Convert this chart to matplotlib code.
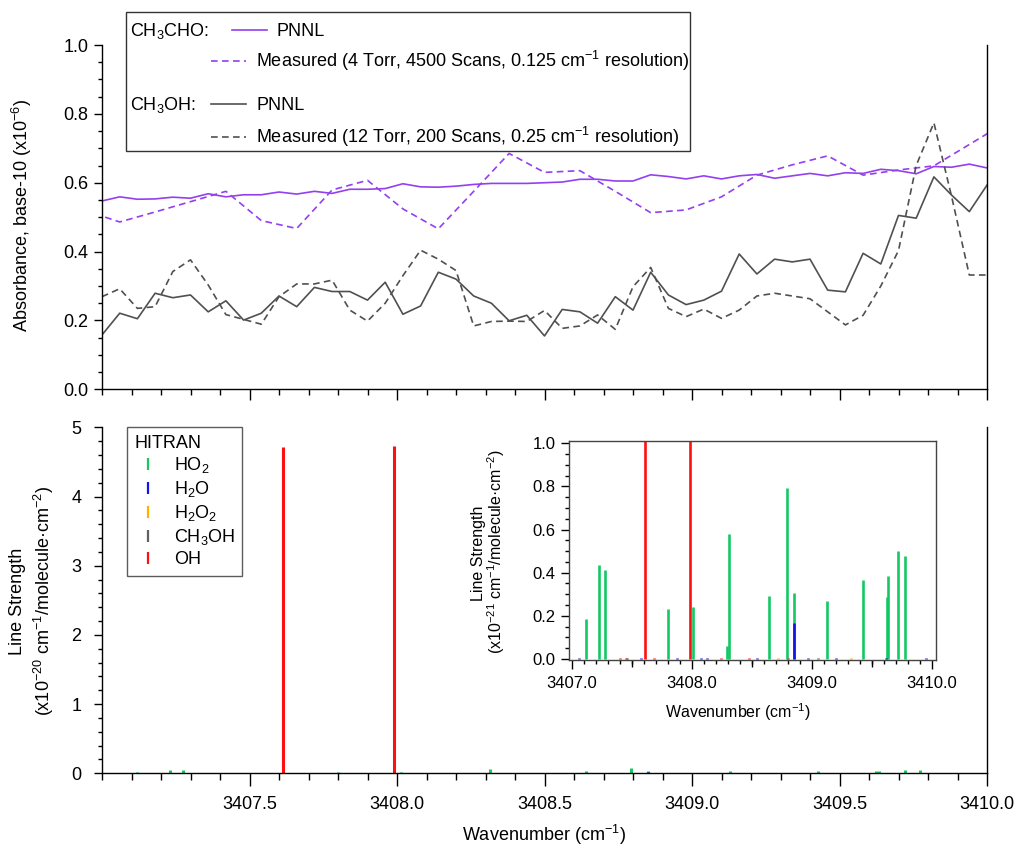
import numpy as np
import matplotlib
matplotlib.use("Agg")
import matplotlib.pyplot as plt
from matplotlib.lines import Line2D
from matplotlib.patches import Rectangle
from matplotlib.ticker import MultipleLocator, FixedLocator, FuncFormatter, NullFormatter

plt.rcParams["font.family"] = ["Liberation Sans", "DejaVu Sans"]
plt.rcParams["mathtext.fontset"] = "custom"
plt.rcParams["mathtext.rm"] = "Liberation Sans"
plt.rcParams["mathtext.it"] = "Liberation Sans:italic"
plt.rcParams["mathtext.bf"] = "Liberation Sans:bold"
plt.rcParams["mathtext.default"] = "regular"

# ---------------- absorbance spectra (x1e-6, base-10) ----------------
pnnl_start, pnnl_step, pnnl_n = 3407.0, 0.06, 51
pnnl_wn = np.round(pnnl_start + pnnl_step * np.arange(pnnl_n), 3)

ch3cho_pnnl = [0.547, 0.559, 0.552, 0.553, 0.558, 0.555, 0.568, 0.559, 0.565, 0.565,
               0.573, 0.567, 0.575, 0.569, 0.581, 0.581, 0.583, 0.597, 0.588, 0.587,
               0.590, 0.595, 0.598, 0.598, 0.598, 0.600, 0.602, 0.610, 0.610, 0.605,
               0.605, 0.623, 0.618, 0.611, 0.620, 0.611, 0.620, 0.624, 0.613, 0.620,
               0.627, 0.620, 0.629, 0.627, 0.639, 0.635, 0.626, 0.647, 0.645, 0.654,
               0.643]

ch3oh_pnnl = [0.158, 0.221, 0.205, 0.279, 0.266, 0.274, 0.225, 0.257, 0.201, 0.221,
              0.271, 0.240, 0.296, 0.284, 0.284, 0.259, 0.311, 0.218, 0.242, 0.340,
              0.320, 0.271, 0.250, 0.199, 0.215, 0.155, 0.232, 0.225, 0.192, 0.269,
              0.230, 0.340, 0.274, 0.246, 0.259, 0.285, 0.393, 0.335, 0.378, 0.370,
              0.378, 0.288, 0.283, 0.395, 0.364, 0.505, 0.497, 0.617, 0.564, 0.516,
              0.593]

ch3oh_meas = [0.269, 0.292, 0.235, 0.240, 0.342, 0.376, 0.303, 0.217, 0.203, 0.189,
              0.269, 0.306, 0.306, 0.317, 0.230, 0.198, 0.250, 0.330, 0.404, 0.378,
              0.345, 0.184, 0.197, 0.198, 0.197, 0.229, 0.177, 0.184, 0.216, 0.174,
              0.298, 0.354, 0.235, 0.211, 0.233, 0.206, 0.230, 0.271, 0.279, 0.271,
              0.263, 0.225, 0.187, 0.215, 0.300, 0.403, 0.650, 0.774, 0.560, 0.332,
              0.332]

cho_start, cho_step, cho_n = 3406.94, 0.12, 27
ch3cho_meas_wn = np.round(cho_start + cho_step * np.arange(cho_n), 3)
ch3cho_meas = [0.520, 0.486, 0.515, 0.545, 0.575, 0.490, 0.467, 0.579, 0.607, 0.524,
               0.466, 0.575, 0.685, 0.630, 0.635, 0.575, 0.513, 0.521, 0.559, 0.622,
               0.652, 0.678, 0.622, 0.637, 0.649, 0.711, 0.773]

# ---------------- HITRAN line list (strength in 1e-21 cm^-1/molecule cm^-2) ----------------
ho2_wn = [3407.120, 3407.229, 3407.276, 3407.799, 3408.015, 3408.290, 3408.314, 3408.640,
          3408.794, 3408.851, 3409.129, 3409.427, 3409.624, 3409.635, 3409.722, 3409.774]
ho2_s = [0.185, 0.434, 0.414, 0.230, 0.240, 0.059, 0.578, 0.291,
         0.791, 0.305, 0.268, 0.365, 0.286, 0.383, 0.502, 0.477]

h2o_wn = [3407.06, 3407.58, 3407.88, 3408.08, 3408.13, 3408.54, 3408.852, 3408.97,
          3409.20, 3409.62, 3409.95]
h2o_s = [0.004, 0.004, 0.004, 0.004, 0.004, 0.004, 0.167, 0.004, 0.003, 0.004, 0.005]

h2o2_wn = [3408.72, 3409.33]
h2o2_s = [0.002, 0.002]

ch3oh_wn = [3407.46, 3409.05]
ch3oh_s = [0.002, 0.002]

oh_wn = [3407.40, 3407.45, 3407.613, 3407.69, 3407.990, 3408.24, 3408.48, 3408.80]
oh_s = [0.003, 0.003, 47.1, 0.003, 47.3, 0.003, 0.003, 0.003]

species = [
    ("HO$_2$", ho2_wn, ho2_s, "#14c864"),
    ("H$_2$O", h2o_wn, h2o_s, "#1414e6"),
    ("H$_2$O$_2$", h2o2_wn, h2o2_s, "#ffb000"),
    ("CH$_3$OH", ch3oh_wn, ch3oh_s, "#606060"),
    ("OH", oh_wn, oh_s, "#ff1010"),
]

PURPLE = "#9440ee"
GRAY = "#505050"
FS = 13

W, H = 1016, 848
fig = plt.figure(figsize=(W / 100, H / 100), dpi=100)


def px_box(x0, y0, x1, y1):
    return [x0 / W, 1 - y1 / H, (x1 - x0) / W, (y1 - y0) / H]


def fx(x):
    return x / W


def fy(y):
    return 1 - y / H


ax1 = fig.add_axes(px_box(102, 45, 987, 389.3))
ax2 = fig.add_axes(px_box(102, 427.3, 987, 773.3))
ax3 = fig.add_axes(px_box(569, 440.7, 936, 660))

dash = (0, (4, 2.6))

# ---------------- top panel: absorbance ----------------
ax1.plot(pnnl_wn, ch3cho_pnnl, color=PURPLE, lw=1.2)
ax1.plot(ch3cho_meas_wn, ch3cho_meas, color=PURPLE, lw=1.2, ls=dash)
ax1.plot(pnnl_wn, ch3oh_pnnl, color=GRAY, lw=1.2)
ax1.plot(pnnl_wn, ch3oh_meas, color=GRAY, lw=1.2, ls=dash)
ax1.set_xlim(3407.0, 3410.0)
ax1.set_ylim(0.0, 1.0)

major_x = [3407.5, 3408.0, 3408.5, 3409.0, 3409.5, 3410.0]
for ax in (ax1, ax2):
    ax.spines["top"].set_visible(False)
    for s in ("left", "bottom", "right"):
        ax.spines[s].set_linewidth(1.0)
    ax.xaxis.set_major_locator(FixedLocator(major_x))
    ax.xaxis.set_minor_locator(MultipleLocator(0.1))
    ax.tick_params(axis="both", which="both", direction="out", width=1.0,
                   labelsize=FS, right=False, top=False)
    ax.tick_params(axis="y", which="major", length=5.8)
    ax.tick_params(axis="y", which="minor", length=2.9)

ax1.xaxis.set_major_formatter(NullFormatter())
ax1.tick_params(axis="x", which="major", length=8)
ax1.tick_params(axis="x", which="minor", length=4.3)
ax1.yaxis.set_major_locator(MultipleLocator(0.2))
ax1.yaxis.set_minor_locator(MultipleLocator(0.05))
ax1.yaxis.set_major_formatter(FuncFormatter(lambda v, p: f"{v:.1f}"))
ax1.tick_params(axis="y", which="major", pad=4)

# ---------------- bottom panel: HITRAN line strengths (1e-20) ----------------
for name, wn, s, col in species:
    ax2.vlines(wn, 0, np.asarray(s) / 10.0, color=col, lw=2.2)
ax2.set_xlim(3407.0, 3410.0)
ax2.set_ylim(0, 5)
ax2.yaxis.set_major_locator(MultipleLocator(1))
ax2.yaxis.set_minor_locator(MultipleLocator(0.2))
ax2.xaxis.set_major_formatter(FuncFormatter(lambda v, p: f"{v:.1f}"))
ax2.tick_params(axis="x", which="major", length=9.4, pad=7)
ax2.tick_params(axis="x", which="minor", length=5)
ax2.tick_params(axis="y", which="major", pad=9)

handles = [Line2D([], [], color=col, marker="|", ls="none", markersize=9,
                  markeredgewidth=1.6) for _, _, _, col in species]
leg = ax2.legend(handles, [n for n, _, _, _ in species], title="HITRAN",
                 loc="upper left", bbox_to_anchor=(0.028, 1.0), borderaxespad=0,
                 fontsize=FS, title_fontsize=FS, frameon=True, fancybox=False,
                 edgecolor="#333333", handlelength=1.5, handletextpad=0.7,
                 labelspacing=0.22, borderpad=0.4, alignment="left")
leg.get_frame().set_linewidth(1.0)

# ---------------- inset: zoom on weak lines (1e-21) ----------------
for name, wn, s, col in species:
    ax3.vlines(wn, 0, s, color=col, lw=1.9)
ax3.set_xlim(3406.978, 3410.035)
ax3.set_ylim(-0.005, 1.012)
for s in ax3.spines.values():
    s.set_linewidth(1.0)
    s.set_color("#444444")
ax3.xaxis.set_major_locator(MultipleLocator(1.0))
ax3.xaxis.set_minor_locator(MultipleLocator(0.1))
ax3.xaxis.set_major_formatter(FuncFormatter(lambda v, p: f"{v:.1f}"))
ax3.yaxis.set_major_locator(MultipleLocator(0.2))
ax3.yaxis.set_minor_locator(MultipleLocator(0.05))
ax3.yaxis.set_major_formatter(FuncFormatter(lambda v, p: f"{v:.1f}"))
ax3.tick_params(axis="both", which="both", direction="out", width=1.0, labelsize=12,
                top=False, right=False)
ax3.tick_params(axis="x", which="major", length=6.5, pad=5)
ax3.tick_params(axis="x", which="minor", length=3)
ax3.tick_params(axis="y", which="major", length=5.8, pad=4)
ax3.tick_params(axis="y", which="minor", length=2.9)
sec = ax3.secondary_xaxis("bottom")
sec.set_xticks([3407.5, 3408.5, 3409.5])
sec.tick_params(length=5, width=1.0, labelbottom=False)
sec.spines["bottom"].set_visible(False)

# ---------------- axis titles ----------------
fig.text(fx(22), fy(215), "Absorbance, base-10 (x10$^{-6}$)", rotation=90,
         ha="center", va="center", fontsize=FS)
fig.text(fx(18), fy(601), "Line Strength", rotation=90, ha="center", va="center",
         fontsize=FS)
fig.text(fx(44), fy(601), "(x10$^{-20}$ cm$^{-1}$/molecule·cm$^{-2}$)", rotation=90,
         ha="center", va="center", fontsize=FS)
fig.text(fx(544), fy(835), "Wavenumber (cm$^{-1}$)", ha="center", va="center",
         fontsize=FS)

fig.text(fx(478), fy(553), "Line Strength", rotation=90, ha="center", va="center",
         fontsize=11.5)
fig.text(fx(496), fy(552), "(x10$^{-21}$ cm$^{-1}$/molecule·cm$^{-2}$)", rotation=90,
         ha="center", va="center", fontsize=11.5)
fig.text(fx(738), fy(712), "Wavenumber (cm$^{-1}$)", ha="center", va="center",
         fontsize=11.5)

# ---------------- absorbance legend ----------------
fig.add_artist(Rectangle((fx(126), fy(151)), fx(690) - fx(126), fy(12) - fy(151),
                         transform=fig.transFigure, fill=False, edgecolor="#333333",
                         lw=1.0))


def legend_row(y, label, x_line, text, color, ls):
    if label:
        fig.text(fx(130), fy(y + 6), label, ha="left", va="baseline", fontsize=FS)
    fig.add_artist(Line2D([fx(x_line), fx(x_line + 35)], [fy(y), fy(y)],
                          transform=fig.transFigure, color=color, lw=1.2, ls=ls))
    fig.text(fx(x_line + 45), fy(y + 6), text, ha="left", va="baseline", fontsize=FS)


legend_row(30, "CH$_3$CHO:", 232, "PNNL", PURPLE, "-")
legend_row(61, None, 211, "Measured (4 Torr, 4500 Scans, 0.125 cm$^{-1}$ resolution)",
           PURPLE, dash)
legend_row(104, "CH$_3$OH:", 211, "PNNL", GRAY, "-")
legend_row(137, None, 211, "Measured (12 Torr, 200 Scans, 0.25 cm$^{-1}$ resolution)",
           GRAY, dash)

fig.savefig("out.png", dpi=100)
